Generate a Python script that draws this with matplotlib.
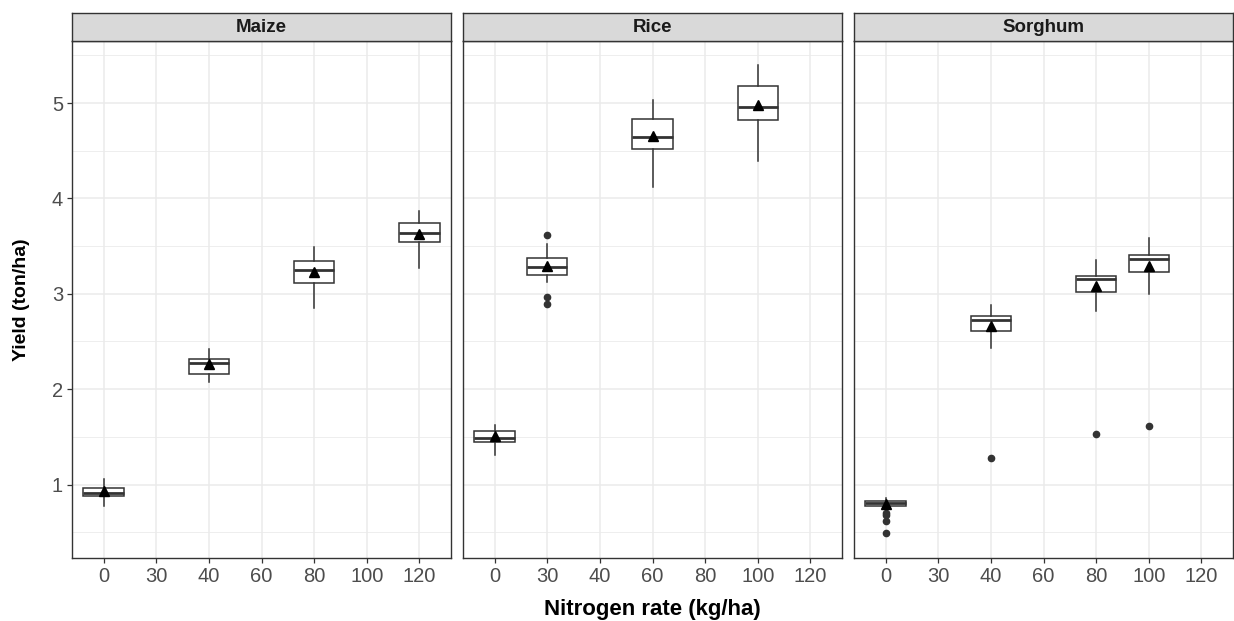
import matplotlib.pyplot as plt
import numpy as np

plt.rcParams['font.family'] = ['Liberation Sans', 'DejaVu Sans']

rate_labels = ['0', '30', '40', '60', '80', '100', '120']
crops = ['Maize', 'Rice', 'Sorghum']

# box statistics, one list per crop
maize_rates = ['0', '40', '80', '120']
maize_whislo = [0.78, 2.08, 2.85, 3.27]
maize_q1 = [0.88, 2.16, 3.11, 3.54]
maize_med = [0.91, 2.27, 3.25, 3.64]
maize_q3 = [0.96, 2.32, 3.34, 3.74]
maize_whishi = [1.06, 2.42, 3.49, 3.87]
maize_mean = [0.93, 2.26, 3.23, 3.63]
maize_fliers = [[], [], [], []]

rice_rates = ['0', '30', '60', '100']
rice_whislo = [1.31, 3.12, 4.12, 4.39]
rice_q1 = [1.45, 3.20, 4.52, 4.82]
rice_med = [1.49, 3.28, 4.64, 4.96]
rice_q3 = [1.56, 3.37, 4.83, 5.18]
rice_whishi = [1.62, 3.52, 5.03, 5.40]
rice_mean = [1.51, 3.29, 4.65, 4.98]
rice_fliers = [[], [3.62, 2.97, 2.89], [], []]

sorghum_rates = ['0', '40', '80', '100']
sorghum_whislo = [0.77, 2.43, 2.82, 3.00]
sorghum_q1 = [0.78, 2.61, 3.02, 3.23]
sorghum_med = [0.81, 2.73, 3.15, 3.36]
sorghum_q3 = [0.83, 2.77, 3.19, 3.41]
sorghum_whishi = [0.86, 2.88, 3.35, 3.58]
sorghum_mean = [0.80, 2.66, 3.08, 3.29]
sorghum_fliers = [[0.70, 0.68, 0.62, 0.49], [1.28], [1.53], [1.61]]

data = {
    'Maize': (maize_rates, maize_whislo, maize_q1, maize_med, maize_q3, maize_whishi, maize_mean, maize_fliers),
    'Rice': (rice_rates, rice_whislo, rice_q1, rice_med, rice_q3, rice_whishi, rice_mean, rice_fliers),
    'Sorghum': (sorghum_rates, sorghum_whislo, sorghum_q1, sorghum_med, sorghum_q3, sorghum_whishi,
                sorghum_mean, sorghum_fliers),
}

W, H = 1234, 621
fig = plt.figure(figsize=(W / 100, H / 100), dpi=100)

panel_left = [72, 463, 854]
panel_w = 379
panel_top, panel_bottom = 41, 558
strip_top = 13

dark = '#333333'
grid_c = '#EBEBEB'

for i, crop in enumerate(crops):
    x0 = panel_left[i] / W
    ax = fig.add_axes([x0, 1 - panel_bottom / H, panel_w / W, (panel_bottom - panel_top) / H])
    rates, wlo, q1, med, q3, whi, mean, fliers = data[crop]
    pos = [rate_labels.index(r) + 1 for r in rates]
    stats = []
    for k in range(len(rates)):
        stats.append(dict(whislo=wlo[k], q1=q1[k], med=med[k], q3=q3[k], whishi=whi[k],
                          fliers=fliers[k]))
    ax.bxp(stats, positions=pos, widths=0.77, showcaps=False, patch_artist=True,
           boxprops=dict(facecolor='white', edgecolor=dark, linewidth=1.1),
           whiskerprops=dict(color=dark, linewidth=1.1),
           medianprops=dict(color=dark, linewidth=2.0),
           flierprops=dict(marker='o', markerfacecolor=dark, markeredgecolor=dark,
                           markersize=4.5, linestyle='none'),
           zorder=3)
    ax.plot(pos, mean, linestyle='none', marker='^', color='black', markersize=7, zorder=4)

    ax.set_xlim(0.4, 7.6)
    ax.set_ylim(0.23, 5.65)
    ax.set_xticks(range(1, 8))
    ax.set_xticklabels(rate_labels)
    ax.set_yticks([1, 2, 3, 4, 5])
    ax.set_yticks(np.arange(0.5, 5.6, 1.0), minor=True)
    ax.grid(True, which='major', color=grid_c, linewidth=1.1, zorder=0)
    ax.grid(True, which='minor', axis='y', color=grid_c, linewidth=0.6, zorder=0)
    ax.set_axisbelow(True)
    ax.tick_params(which='major', length=3.5, width=0.9, color=dark, labelcolor='#4D4D4D',
                   labelsize=14.5, pad=3)
    ax.tick_params(which='minor', length=0)
    if i > 0:
        ax.tick_params(axis='y', which='major', length=0, labelleft=False)
    for s in ax.spines.values():
        s.set_color(dark)
        s.set_linewidth(1.0)

    sax = fig.add_axes([x0, 1 - panel_top / H, panel_w / W, (panel_top - strip_top) / H])
    sax.set_facecolor('#D9D9D9')
    sax.set_xticks([])
    sax.set_yticks([])
    for s in sax.spines.values():
        s.set_color(dark)
        s.set_linewidth(1.0)
    sax.text(0.5, 0.5, crop, ha='center', va='center', fontsize=13.5, fontweight='bold',
             color='#1A1A1A', transform=sax.transAxes)

fig.text((72 + 1233) / 2 / W, 1 - 609 / H, 'Nitrogen rate (kg/ha)', ha='center', va='center',
         fontsize=16, fontweight='bold')
fig.text(22 / W, 1 - 299.5 / H, 'Yield (ton/ha)', ha='center', va='center', rotation=90,
         fontsize=14, fontweight='bold')

fig.savefig('out.png', dpi=100)
